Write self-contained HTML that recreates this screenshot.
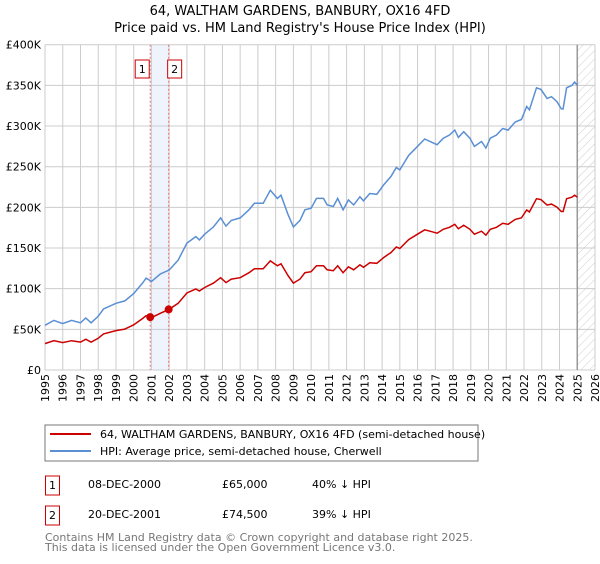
<!DOCTYPE html>
<html><head><meta charset="utf-8"><style>
body{margin:0;background:#fff;font-family:"DejaVu Sans","Liberation Sans",sans-serif;}
svg text{font-family:"DejaVu Sans","Liberation Sans",sans-serif;}
</style></head><body>
<svg id="chart" width="600" height="560" viewBox="0 0 600 560" xmlns="http://www.w3.org/2000/svg">
<defs><pattern id="hatch" width="6" height="6" patternUnits="userSpaceOnUse" patternTransform="rotate(45)"><line x1="0" y1="0" x2="0" y2="6" stroke="#ccc" stroke-width="1"/></pattern></defs>
<text x="300" y="15" text-anchor="middle" font-size="13" fill="#000">64, WALTHAM GARDENS, BANBURY, OX16 4FD</text>
<text x="300" y="32" text-anchor="middle" font-size="13" fill="#000">Price paid vs. HM Land Registry's House Price Index (HPI)</text>
<g id="grid"></g><g id="marks"></g><g id="axes"></g>
<rect x="45" y="425" width="433" height="36" fill="#fff" stroke="#777"/>
<line x1="50" y1="434" x2="91" y2="434" stroke="#cc0000" stroke-width="2"/>
<text x="100" y="438" font-size="11">64, WALTHAM GARDENS, BANBURY, OX16 4FD (semi-detached house)</text>
<line x1="50" y1="451" x2="91" y2="451" stroke="#5b8fd4" stroke-width="2"/>
<text x="100" y="455" font-size="11">HPI: Average price, semi-detached house, Cherwell</text>
<g>
<rect x="45.5" y="476" width="14" height="19" fill="#fff" stroke="#cc0000"/>
<text x="52.5" y="489" font-size="11" text-anchor="middle">1</text>
<text x="88" y="488" font-size="11">08-DEC-2000</text><text x="222" y="488" font-size="11">£65,000</text><text x="312" y="488" font-size="11">40% ↓ HPI</text></g>
<g>
<rect x="45.5" y="506" width="14" height="19" fill="#fff" stroke="#cc0000"/>
<text x="52.5" y="519" font-size="11" text-anchor="middle">2</text>
<text x="88" y="518" font-size="11">20-DEC-2001</text><text x="222" y="518" font-size="11">£74,500</text><text x="312" y="518" font-size="11">39% ↓ HPI</text></g>
<text x="45" y="541" font-size="11" fill="#777">Contains HM Land Registry data © Crown copyright and database right 2025.</text>
<text x="45" y="551" font-size="11" fill="#777">This data is licensed under the Open Government Licence v3.0.</text>
</svg>
<script>
const hpiYears=[1995.0,1995.5,1996.0,1996.5,1997.0,1997.3,1997.6,1998.0,1998.3,1999.0,1999.5,2000.0,2000.5,2000.7,2001.0,2001.5,2002.0,2002.5,2003.0,2003.5,2003.7,2004.0,2004.5,2004.9,2005.2,2005.5,2006.0,2006.5,2006.8,2007.3,2007.7,2008.1,2008.3,2008.7,2009.0,2009.37,2009.65,2010.0,2010.3,2010.7,2010.9,2011.25,2011.5,2011.8,2012.1,2012.4,2012.75,2012.95,2013.3,2013.7,2014.1,2014.5,2014.8,2015.0,2015.5,2015.95,2016.4,2016.8,2017.1,2017.45,2017.8,2018.1,2018.3,2018.6,2018.95,2019.2,2019.6,2019.85,2020.1,2020.45,2020.8,2021.1,2021.5,2021.85,2022.15,2022.3,2022.7,2022.95,2023.3,2023.55,2023.85,2024.1,2024.2,2024.4,2024.7,2024.85,2025.0];
const hpiValues=[55,61,57,61,58,64,58,66,75,82,85,94,107,113,109,118,123,135,156,164,160,167,176,187,177,184,187,197,205,205,221,211,215,191,176,184,197,199,211,211,203,201,211,197,209,203,213,208,217,216,228,238,249,246,264,274,284,280,277,285,289,295,286,293,285,275,281,273,285,289,297,295,305,308,324,320,347,345,334,336,330,321,321,347,350,354,350];
const saleYears=[2000.93,2001.97];
const salePrices=[65000,74500];
const yTicks=[0,50,100,150,200,250,300,350,400];
const yTickLabels=["£0","£50K","£100K","£150K","£200K","£250K","£300K","£350K","£400K"];
const xTicks=[1995,1996,1997,1998,1999,2000,2001,2002,2003,2004,2005,2006,2007,2008,2009,2010,2011,2012,2013,2014,2015,2016,2017,2018,2019,2020,2021,2022,2023,2024,2025,2026];
const NS="http://www.w3.org/2000/svg";
const X0=45,X1=595,Y0=370,Y1=44.7;
function xs(y){return X0+(y-1995)*(X1-X0)/31;}
function ys(k){return Y0-k*(Y0-Y1)/400;}
function mk(t,a,p){const e=document.createElementNS(NS,t);for(const k in a)e.setAttribute(k,a[k]);p.appendChild(e);return e;}
const grid=document.getElementById('grid'),marks=document.getElementById('marks'),axes=document.getElementById('axes');
const band=mk('rect',{x:xs(saleYears[0]),y:Y1,width:xs(saleYears[1])-xs(saleYears[0]),height:Y0-Y1,fill:'#eef3fc'},grid);


yTicks.forEach((t,i)=>{
 const l=mk('line',{x1:X0,x2:X1,y1:ys(t),y2:ys(t),stroke:'#ccc'},grid);
 
 
 const tx=mk('text',{x:X0-4,y:ys(t)+4,'text-anchor':'end','font-size':'11'},axes);
 tx.textContent=yTickLabels[i];
 
 
});
xTicks.forEach(t=>{
 const l=mk('line',{x1:xs(t),x2:xs(t),y1:Y1,y2:Y0,stroke:'#ccc'},grid);
 
 
 const tx=mk('text',{x:0,y:0,'font-size':'11','text-anchor':'end',transform:`translate(${xs(t)+4},${Y0+4}) rotate(-90)`},axes);
 tx.textContent=t;
 
 
});
const lastX=xs(hpiYears[hpiYears.length-1]);
const hat=mk('rect',{x:lastX,y:Y1,width:X1-lastX,height:Y0-Y1,fill:'url(#hatch)'},grid);


const el=mk('line',{x1:lastX,x2:lastX,y1:Y1,y2:Y0,stroke:'#999','stroke-width':1.5},grid);


saleYears.forEach((s,i)=>{
 const l=mk('line',{x1:xs(s),x2:xs(s),y1:Y1,y2:Y0,stroke:'#f07070','stroke-dasharray':'2,2'},grid);
 
 
 const r=mk('rect',{x:xs(s)-(i==0?15:1),y:60,width:14,height:18,fill:'#fff',stroke:'#cc0000'},marks);
 
 
 const tx=mk('text',{x:xs(s)-(i==0?8:-6),y:73,'font-size':'11','text-anchor':'middle'},marks);
 tx.textContent=i+1;
});
function interp(y){for(let i=1;i<hpiYears.length;i++){if(hpiYears[i]>=y){const f=(y-hpiYears[i-1])/(hpiYears[i]-hpiYears[i-1]);return hpiValues[i-1]+f*(hpiValues[i]-hpiValues[i-1]);}}return hpiValues[hpiValues.length-1];}
const hp=mk('path',{d:hpiYears.map((y,i)=>(i?'L':'M')+xs(y).toFixed(1)+','+ys(hpiValues[i]).toFixed(1)).join(''),fill:'none',stroke:'#5b8fd4','stroke-width':1.5},marks);


const r1=salePrices[0]/1000/interp(saleYears[0]),r2=salePrices[1]/1000/interp(saleYears[1]);
const pp=mk('path',{d:hpiYears.map((y,i)=>(i?'L':'M')+xs(y).toFixed(1)+','+ys(hpiValues[i]*(y<saleYears[1]?r1:r2)).toFixed(1)).join(''),fill:'none',stroke:'#cc0000','stroke-width':1.5},marks);


saleYears.forEach((s,i)=>{
 const c=mk('circle',{cx:xs(s),cy:ys(salePrices[i]/1000),r:4,fill:'#cc0000'},marks);
 
 
});
</script>
</body></html>
